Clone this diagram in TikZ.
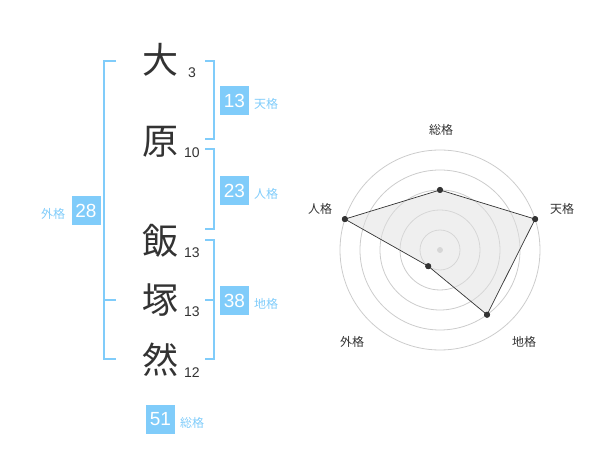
\documentclass[tikz,border=0pt]{standalone}
\usepackage{fontspec}
\setmainfont{Liberation Sans}
\newfontfamily\cjk{Noto Sans CJK JP}
\usepackage{tikz}
\usetikzlibrary{arrows, positioning}
\definecolor{kakuBlue}{HTML}{80CCFA}
\definecolor{inkGray}{HTML}{333333}
\definecolor{ringGray}{HTML}{CCCCCC}
\definecolor{areaGray}{HTML}{E0E0E0}

\begin{document}
\begin{tikzpicture}[x=1pt, y=-1pt]
				\tikzstyle{Kanji} = [font=\cjk\fontsize{36}{36}\selectfont, text=inkGray, inner sep=0pt]
				\tikzstyle{Stroke} = [font=\fontsize{14}{14}\selectfont, text=inkGray, inner sep=0pt]
				\tikzstyle{Box} = [rectangle, minimum width=29pt, minimum height=29pt, inner sep=0pt, fill=kakuBlue, text=white, font=\fontsize{19}{19}\selectfont]
				\tikzstyle{Kaku} = [font=\cjk\fontsize{12}{12}\selectfont, text=kakuBlue, inner sep=0pt]
				\tikzstyle{Bracket} = [kakuBlue, line width=2pt]
				\tikzstyle{Axis} = [font=\cjk\fontsize{12}{12}\selectfont, text=inkGray, inner sep=0pt]
				\tikzstyle{Dot} = [circle, fill=inkGray, minimum size=6pt, inner sep=0pt]
				
				\useasboundingbox (0,0) rectangle (600,470);
				
				% name and stroke counts
				\node (k1) [Kanji] at (160,60) {大};
				\node (k2) [Kanji] at (160,142) {原};
				\node (k3) [Kanji] at (160,241) {飯};
				\node (k4) [Kanji] at (160,300) {塚};
				\node (k5) [Kanji] at (160,360) {然};
				\node (s1) [Stroke] at (192,73) {3};
				\node (s2) [Stroke] at (192,153) {10};
				\node (s3) [Stroke] at (192,253) {13};
				\node (s4) [Stroke] at (192,312) {13};
				\node (s5) [Stroke] at (192,373) {12};
				
				% brackets
				\draw [Bracket] (116,61) -- (104,61) -- (104,359) -- (116,359);
				\draw [Bracket] (104,300) -- (116,300);
				\draw [Bracket] (205,61) -- (214,61) -- (214,139) -- (205,139);
				\draw [Bracket] (205,149) -- (214,149) -- (214,229) -- (205,229);
				\draw [Bracket] (205,240) -- (214,240) -- (214,359) -- (205,359);
				\draw [Bracket] (205,300) -- (214,300);
				
				% scores
				\node (ten) [Box] at (234.5,100.5) {13};
				\node (tenL) [Kaku] at (266,104) {天格};
				\node (jin) [Box] at (234.5,190.5) {23};
				\node (jinL) [Kaku] at (266,194) {人格};
				\node (chi) [Box] at (234.5,300.5) {38};
				\node (chiL) [Kaku] at (266,304) {地格};
				\node (gai) [Box] at (86,210.5) {28};
				\node (gaiL) [Kaku] at (53,214) {外格};
				\node (sou) [Box] at (160.5,419) {51};
				\node (souL) [Kaku] at (192,423) {総格};
				
				% radar chart
				\begin{scope}[shift={(440,250)}, yscale=-1]
					\foreach \r in {20,40,60,80,100}
						\draw [ringGray, line width=0.8pt] (0,0) circle (\r pt);
					\node (mid) [circle, fill=ringGray, minimum size=6pt, inner sep=0pt] at (0,0) {};
					\node (pSou) [Dot] at (90:60) {};
					\node (pTen) [Dot] at (18:100) {};
					\node (pChi) [Dot] at (-54:80) {};
					\node (pGai) [Dot] at (-126:20) {};
					\node (pJin) [Dot] at (162:100) {};
					\draw [inkGray, line width=0.7pt, fill=areaGray, fill opacity=0.5] (pSou.center) -- (pTen.center) -- (pChi.center) -- (pGai.center) -- (pJin.center) -- cycle;
					\node [Dot] at (pSou) {};
					\node [Dot] at (pTen) {};
					\node [Dot] at (pChi) {};
					\node [Dot] at (pGai) {};
					\node [Dot] at (pJin) {};
				\end{scope}
				\node (aSou) [Axis] at (441,130) {総格};
				\node (aTen) [Axis] at (562,209) {天格};
				\node (aJin) [Axis] at (320,209) {人格};
				\node (aChi) [Axis] at (524,342) {地格};
				\node (aGai) [Axis] at (352,342) {外格};
			\end{tikzpicture}
\end{document}
